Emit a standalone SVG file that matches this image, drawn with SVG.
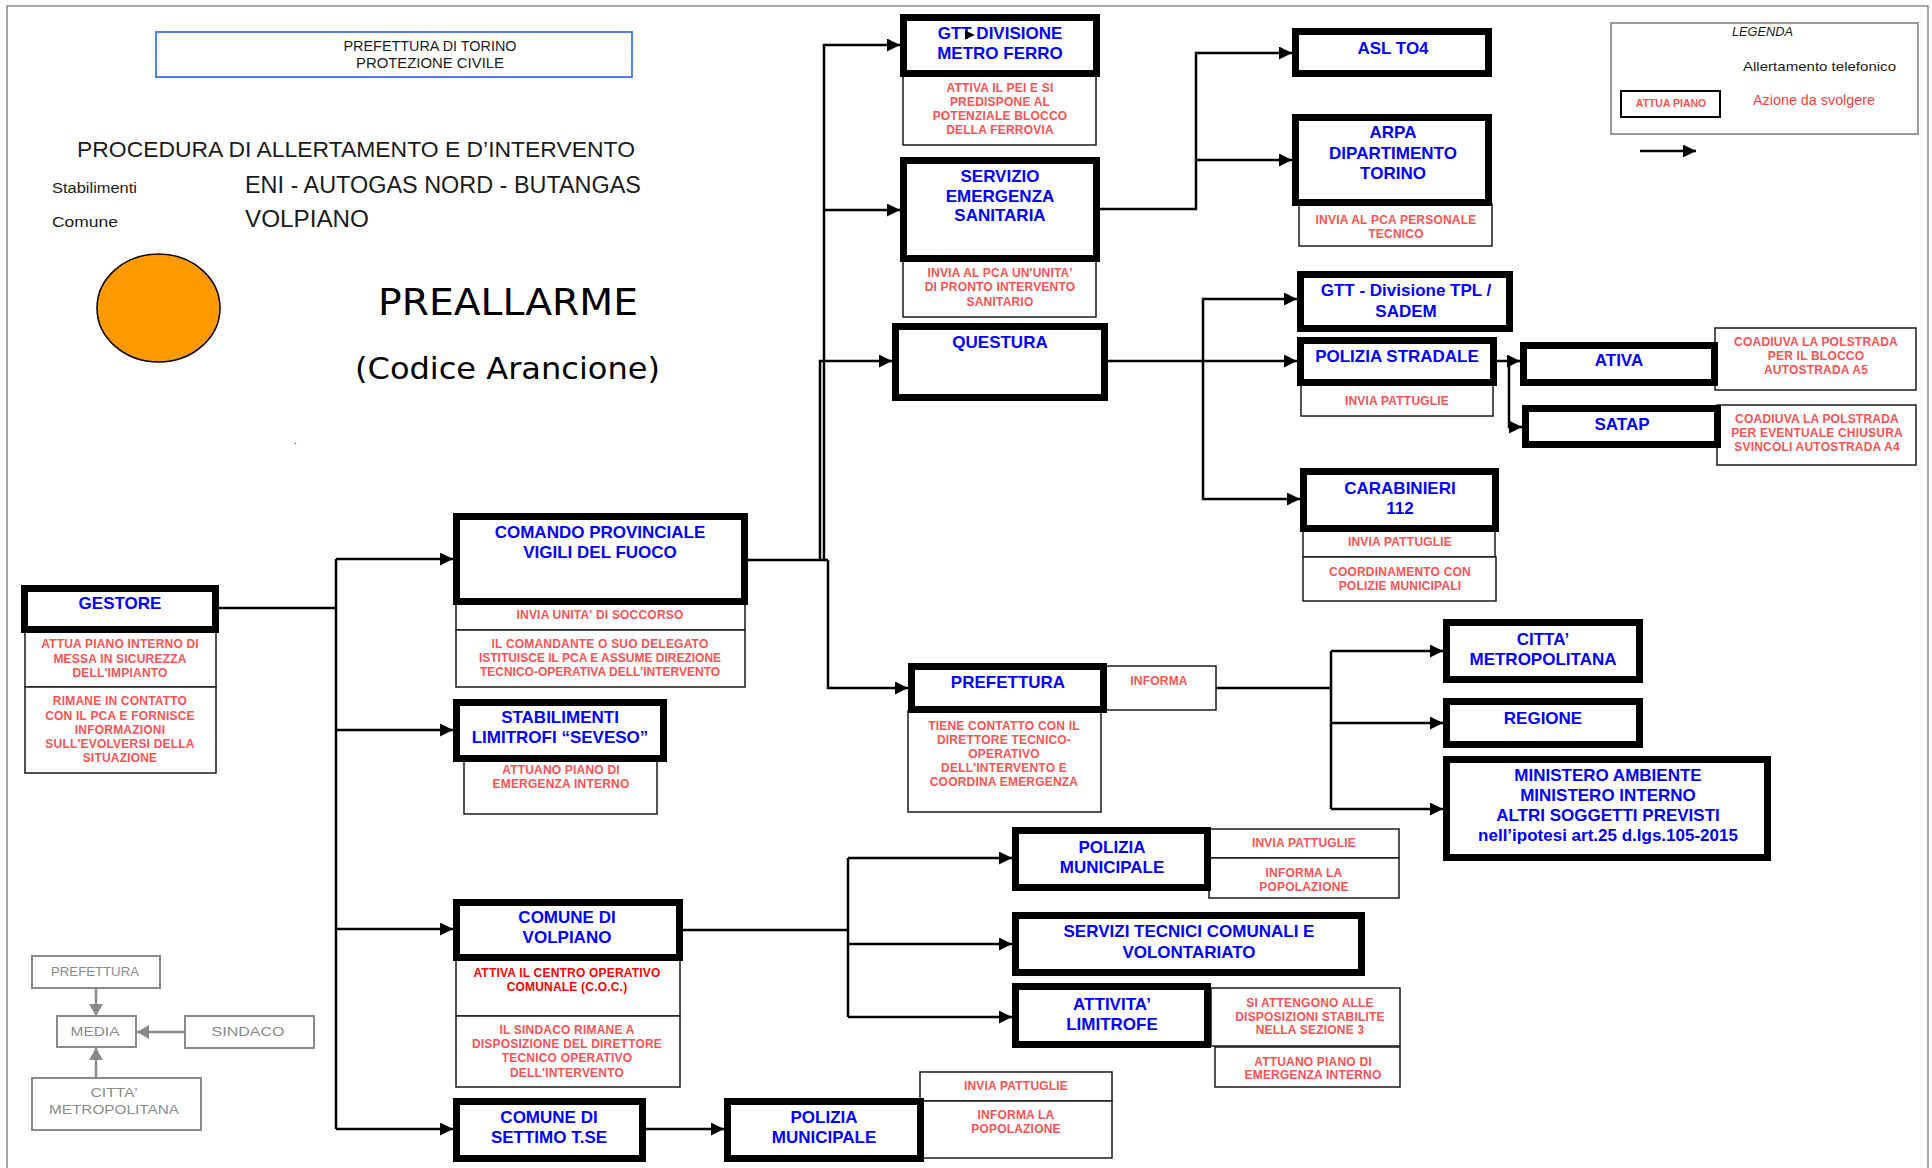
<svg xmlns="http://www.w3.org/2000/svg" width="1932" height="1168" viewBox="0 0 1932 1168">
<defs>
<marker id="ah" markerWidth="13" markerHeight="13" refX="13" refY="6.5" orient="auto" markerUnits="userSpaceOnUse"><path d="M0,0 L13,6.5 L0,13 z" fill="#000"/></marker>
<marker id="gh" markerWidth="12" markerHeight="14" refX="12" refY="7" orient="auto" markerUnits="userSpaceOnUse"><path d="M0,0 L12,7 L0,14 z" fill="#8a8a8a"/></marker>
<style>
.nb{fill:#fff;stroke:#000;stroke-width:7}
.sb{fill:#fff;stroke:#1a1a1a;stroke-width:1.5}
.t{font-family:"Liberation Sans",Arial,sans-serif;font-weight:bold;font-size:17px;fill:#0000ff;text-anchor:middle}
.a{font-family:"Liberation Sans",Arial,sans-serif;font-weight:bold;font-size:12px;letter-spacing:0.2px;fill:#ff5252;text-anchor:middle}
.ar{fill:#ff0000}
.c{fill:none;stroke:#000;stroke-width:2.5}
.ca{fill:none;stroke:#000;stroke-width:2.5;marker-end:url(#ah)}
.g{fill:#fff;stroke:#8a8a8a;stroke-width:2}
.gl{fill:none;stroke:#8a8a8a;stroke-width:2.5;marker-end:url(#gh)}
.gt{font-family:"Liberation Sans",Arial,sans-serif;font-size:13.5px;fill:#8a8a8a;text-anchor:middle}
.h{font-family:"Liberation Sans",Arial,sans-serif;fill:#1a1a1a}
.big{font-family:"DejaVu Sans",Verdana,sans-serif;fill:#000}
</style>
</defs>
<rect width="1932" height="1168" fill="#fff"/>
<!-- page frame -->
<rect x="7" y="6" width="1921" height="1180" fill="none" stroke="#8a8a8a" stroke-width="1.5"/>

<!-- header -->
<g id="header">
<rect x="156" y="32" width="476" height="45" fill="none" stroke="#3d6ff0" stroke-width="1.8"/>
<text class="h" x="430" y="51" font-size="14" text-anchor="middle" textLength="173" lengthAdjust="spacingAndGlyphs">PREFETTURA DI TORINO</text>
<text class="h" x="430" y="68" font-size="14" text-anchor="middle" textLength="148" lengthAdjust="spacingAndGlyphs">PROTEZIONE CIVILE</text>
<text class="h" x="77" y="157" font-size="22" textLength="558" lengthAdjust="spacingAndGlyphs">PROCEDURA DI ALLERTAMENTO E D’INTERVENTO</text>
<text class="h" x="52" y="193" font-size="14" textLength="85" lengthAdjust="spacingAndGlyphs">Stabilimenti</text>
<text class="h" x="245" y="193" font-size="23" textLength="396" lengthAdjust="spacingAndGlyphs">ENI - AUTOGAS NORD - BUTANGAS</text>
<text class="h" x="52" y="227" font-size="14" textLength="66" lengthAdjust="spacingAndGlyphs">Comune</text>
<text class="h" x="245" y="227" font-size="23" textLength="124" lengthAdjust="spacingAndGlyphs">VOLPIANO</text>
<ellipse cx="158.5" cy="308" rx="61.5" ry="54" fill="#ff9900" stroke="#000" stroke-width="1.5"/>
<text class="big" x="378" y="315" font-size="37" textLength="260" lengthAdjust="spacingAndGlyphs">PREALLARME</text>
<text class="big" x="355" y="379" font-size="31" textLength="305" lengthAdjust="spacingAndGlyphs">(Codice Arancione)</text>
<text class="h" x="294" y="444" font-size="10">.</text>
</g>

<!-- legend -->
<g id="legenda">
<rect x="1611" y="23" width="307" height="111" fill="none" stroke="#999" stroke-width="2"/>
<text class="h" x="1732" y="36" font-size="12" font-style="italic" textLength="61" lengthAdjust="spacingAndGlyphs">LEGENDA</text>
<text class="h" x="1743" y="71" font-size="13.5" textLength="153" lengthAdjust="spacingAndGlyphs">Allertamento telefonico</text>
<rect x="1621" y="91" width="99" height="26" fill="#fff" stroke="#000" stroke-width="2"/>
<text class="a" x="1671" y="107" style="font-size:10.5px;letter-spacing:0">ATTUA PIANO</text>
<text class="h" x="1753" y="105" font-size="14" style="fill:#ff4040" textLength="122" lengthAdjust="spacingAndGlyphs">Azione da svolgere</text>
<path class="ca" d="M1640,151 H1696"/>
</g>

<!-- connectors -->
<g id="connectors">
<path class="c" d="M219,608 H336 M336,559 V1129"/>
<path class="ca" d="M336,559 H453"/>
<path class="ca" d="M336,730 H453"/>
<path class="ca" d="M336,929 H453"/>
<path class="ca" d="M336,1129 H453"/>
<path class="c" d="M748,560 H828"/>
<path class="ca" d="M824,560 V45 H900"/>
<path class="ca" d="M824,210 H900"/>
<path class="ca" d="M820,560 V361 H892"/>
<path class="ca" d="M828,560 V688 H908"/>
<path class="ca" d="M1100,209 H1196 V53 H1292"/>
<path class="ca" d="M1196,160 H1292"/>
<path class="ca" d="M1108,361 H1297"/>
<path class="ca" d="M1203,361 V299 H1297"/>
<path class="ca" d="M1203,361 V499 H1300"/>
<path class="ca" d="M1497,361 H1520"/>
<path class="ca" d="M1509,361 V427 H1522"/>
<path class="c" d="M1216,688 H1331 M1331,651 V809"/>
<path class="ca" d="M1331,651 H1443"/>
<path class="ca" d="M1331,723 H1443"/>
<path class="ca" d="M1331,809 H1443"/>
<path class="c" d="M683,930 H848 M848,858 V1017"/>
<path class="ca" d="M848,858 H1012"/>
<path class="ca" d="M848,944 H1012"/>
<path class="ca" d="M848,1017 H1012"/>
<path class="ca" d="M646,1129 H724"/>
</g>

<!-- left column -->
<g id="gestore">
<rect class="sb" x="25" y="631" width="191" height="56"/>
<rect class="sb" x="25" y="687" width="191" height="86"/>
<rect class="nb" x="24.5" y="588.5" width="191" height="41"/>
<text class="t" x="120" y="609">GESTORE</text>
<text class="a" x="120" y="648">ATTUA PIANO INTERNO DI</text>
<text class="a" x="120" y="663">MESSA IN SICUREZZA</text>
<text class="a" x="120" y="677">DELL'IMPIANTO</text>
<text class="a" x="120" y="705">RIMANE IN CONTATTO</text>
<text class="a" x="120" y="720">CON IL PCA E FORNISCE</text>
<text class="a" x="120" y="734">INFORMAZIONI</text>
<text class="a" x="120" y="748">SULL'EVOLVERSI  DELLA</text>
<text class="a" x="120" y="762">SITUAZIONE</text>
</g>

<g id="vigili-fuoco">
<rect class="sb" x="456" y="603" width="289" height="27"/>
<rect class="sb" x="456" y="630" width="289" height="57"/>
<rect class="nb" x="456.5" y="516.5" width="288" height="85"/>
<text class="t" x="600" y="538">COMANDO PROVINCIALE</text>
<text class="t" x="600" y="558">VIGILI DEL FUOCO</text>
<text class="a" x="600" y="619">INVIA UNITA' DI SOCCORSO</text>
<text class="a" x="600" y="648">IL COMANDANTE O SUO DELEGATO</text>
<text class="a" x="600" y="662" style="letter-spacing:0">ISTITUISCE IL PCA E ASSUME DIREZIONE</text>
<text class="a" x="600" y="676" style="letter-spacing:0">TECNICO-OPERATIVA  DELL'INTERVENTO</text>
</g>

<g id="stabilimenti">
<rect class="sb" x="464" y="760" width="193" height="54"/>
<rect class="nb" x="456.5" y="702.5" width="207" height="56"/>
<text class="t" x="560" y="723">STABILIMENTI</text>
<text class="t" x="560" y="743">LIMITROFI “SEVESO”</text>
<text class="a" x="561" y="774">ATTUANO PIANO DI</text>
<text class="a" x="561" y="788">EMERGENZA INTERNO</text>
</g>

<g id="comune-volpiano">
<rect class="sb" x="456" y="959" width="224" height="57"/>
<rect class="sb" x="456" y="1016" width="224" height="71"/>
<rect class="nb" x="456.5" y="902.5" width="223" height="55"/>
<text class="t" x="567" y="923">COMUNE DI</text>
<text class="t" x="567" y="943">VOLPIANO</text>
<text class="a ar" x="567" y="977">ATTIVA IL CENTRO OPERATIVO</text>
<text class="a ar" x="567" y="991">COMUNALE (C.O.C.)</text>
<text class="a" x="567" y="1034">IL SINDACO RIMANE A</text>
<text class="a" x="567" y="1048">DISPOSIZIONE  DEL DIRETTORE</text>
<text class="a" x="567" y="1062">TECNICO OPERATIVO</text>
<text class="a" x="567" y="1077">DELL'INTERVENTO</text>
</g>

<g id="comune-settimo">
<rect class="nb" x="456.5" y="1101.5" width="186" height="57"/>
<text class="t" x="549" y="1123">COMUNE DI</text>
<text class="t" x="549" y="1143">SETTIMO T.SE</text>
</g>

<g id="polizia-municipale-settimo">
<rect class="sb" x="920" y="1072" width="192" height="29"/>
<rect class="sb" x="920" y="1101" width="192" height="57"/>
<rect class="nb" x="727.5" y="1101.5" width="193" height="57"/>
<text class="t" x="824" y="1123">POLIZIA</text>
<text class="t" x="824" y="1143">MUNICIPALE</text>
<text class="a" x="1016" y="1090">INVIA PATTUGLIE</text>
<text class="a" x="1016" y="1119">INFORMA LA</text>
<text class="a" x="1016" y="1133">POPOLAZIONE</text>
</g>

<!-- middle column -->
<g id="gtt-metro-ferro">
<rect class="sb" x="903" y="75" width="193" height="70"/>
<rect class="nb" x="903.5" y="17.5" width="193" height="56"/>
<text class="t" x="1000" y="39">GTT DIVISIONE</text>
<path d="M965,30.5 L975,35 L965,39.5 z" fill="#000"/>
<text class="t" x="1000" y="59">METRO FERRO</text>
<text class="a" x="1000" y="92">ATTIVA IL PEI E SI</text>
<text class="a" x="1000" y="106">PREDISPONE AL</text>
<text class="a" x="1000" y="120">POTENZIALE BLOCCO</text>
<text class="a" x="1000" y="134">DELLA FERROVIA</text>
</g>

<g id="servizio-emergenza-sanitaria">
<rect class="sb" x="903" y="260" width="193" height="57"/>
<rect class="nb" x="903.5" y="160.5" width="193" height="98"/>
<text class="t" x="1000" y="182">SERVIZIO</text>
<text class="t" x="1000" y="202">EMERGENZA</text>
<text class="t" x="1000" y="221">SANITARIA</text>
<text class="a" x="1000" y="277">INVIA AL PCA UN'UNITA'</text>
<text class="a" x="1000" y="291">DI PRONTO INTERVENTO</text>
<text class="a" x="1000" y="306">SANITARIO</text>
</g>

<g id="questura">
<rect class="nb" x="895.5" y="326.5" width="209" height="71"/>
<text class="t" x="1000" y="348">QUESTURA</text>
</g>

<g id="prefettura">
<rect class="sb" x="908" y="711" width="193" height="101"/>
<rect class="sb" x="1105" y="666" width="111" height="44"/>
<rect class="nb" x="911.5" y="666.5" width="192" height="43"/>
<text class="t" x="1008" y="688">PREFETTURA</text>
<text class="a" x="1159" y="685">INFORMA</text>
<text class="a" x="1004" y="730">TIENE CONTATTO CON IL</text>
<text class="a" x="1004" y="744">DIRETTORE TECNICO-</text>
<text class="a" x="1004" y="758">OPERATIVO</text>
<text class="a" x="1004" y="772">DELL'INTERVENTO  E</text>
<text class="a" x="1004" y="786">COORDINA  EMERGENZA</text>
</g>

<g id="polizia-municipale-volpiano">
<rect class="sb" x="1209" y="829" width="190" height="29"/>
<rect class="sb" x="1209" y="858" width="190" height="40"/>
<rect class="nb" x="1015.5" y="830.5" width="192" height="57"/>
<text class="t" x="1112" y="853">POLIZIA</text>
<text class="t" x="1112" y="873">MUNICIPALE</text>
<text class="a" x="1304" y="847">INVIA PATTUGLIE</text>
<text class="a" x="1304" y="877">INFORMA LA</text>
<text class="a" x="1304" y="891">POPOLAZIONE</text>
</g>

<g id="servizi-tecnici">
<rect class="nb" x="1015.5" y="915.5" width="346" height="57"/>
<text class="t" x="1189" y="937">SERVIZI TECNICI COMUNALI E</text>
<text class="t" x="1189" y="958">VOLONTARIATO</text>
</g>

<g id="attivita-limitrofe">
<rect class="sb" x="1211" y="988" width="189" height="58"/>
<rect class="sb" x="1215" y="1047" width="185" height="40"/>
<rect class="nb" x="1015.5" y="986.5" width="192" height="58"/>
<text class="t" x="1112" y="1010">ATTIVITA’</text>
<text class="t" x="1112" y="1030">LIMITROFE</text>
<text class="a" x="1310" y="1007">SI ATTENGONO ALLE</text>
<text class="a" x="1310" y="1021">DISPOSIZIONI STABILITE</text>
<text class="a" x="1310" y="1034">NELLA SEZIONE 3</text>
<text class="a" x="1313" y="1066">ATTUANO PIANO DI</text>
<text class="a" x="1313" y="1079">EMERGENZA INTERNO</text>
</g>

<!-- right column -->
<g id="asl-to4">
<rect class="nb" x="1295.5" y="31.5" width="193" height="42"/>
<text class="t" x="1393" y="54">ASL TO4</text>
</g>

<g id="arpa">
<rect class="sb" x="1299" y="204" width="193" height="42"/>
<rect class="nb" x="1295.5" y="117.5" width="193" height="85"/>
<text class="t" x="1393" y="138">ARPA</text>
<text class="t" x="1393" y="159">DIPARTIMENTO</text>
<text class="t" x="1393" y="179">TORINO</text>
<text class="a" x="1396" y="224">INVIA AL PCA PERSONALE</text>
<text class="a" x="1396" y="238">TECNICO</text>
</g>

<g id="gtt-tpl-sadem">
<rect class="nb" x="1300.5" y="274.5" width="209" height="54"/>
<text class="t" x="1406" y="296">GTT - Divisione TPL /</text>
<text class="t" x="1406" y="317">SADEM</text>
</g>

<g id="polizia-stradale">
<rect class="sb" x="1301" y="384" width="192" height="32"/>
<rect class="nb" x="1300.5" y="340.5" width="193" height="42"/>
<text class="t" x="1397" y="362">POLIZIA STRADALE</text>
<text class="a" x="1397" y="405">INVIA PATTUGLIE</text>
</g>

<g id="carabinieri">
<rect class="sb" x="1303" y="530" width="192" height="27"/>
<rect class="sb" x="1303" y="557" width="193" height="44"/>
<rect class="nb" x="1303.5" y="471.5" width="192" height="57"/>
<text class="t" x="1400" y="494">CARABINIERI</text>
<text class="t" x="1400" y="514">112</text>
<text class="a" x="1400" y="546">INVIA PATTUGLIE</text>
<text class="a" x="1400" y="576">COORDINAMENTO  CON</text>
<text class="a" x="1400" y="590">POLIZIE MUNICIPALI</text>
</g>

<g id="ativa">
<rect class="sb" x="1715" y="328" width="201" height="62"/>
<rect class="nb" x="1523.5" y="345.5" width="191" height="37"/>
<text class="t" x="1619" y="366">ATIVA</text>
<text class="a" x="1816" y="346">COADIUVA  LA POLSTRADA</text>
<text class="a" x="1816" y="360">PER IL BLOCCO</text>
<text class="a" x="1816" y="374">AUTOSTRADA  A5</text>
</g>

<g id="satap">
<rect class="sb" x="1717" y="405" width="199" height="60"/>
<rect class="nb" x="1525.5" y="408.5" width="192" height="36"/>
<text class="t" x="1622" y="430">SATAP</text>
<text class="a" x="1817" y="423">COADIUVA  LA POLSTRADA</text>
<text class="a" x="1817" y="437">PER EVENTUALE CHIUSURA</text>
<text class="a" x="1817" y="451">SVINCOLI  AUTOSTRADA  A4</text>
</g>

<g id="citta-metropolitana">
<rect class="nb" x="1446.5" y="622.5" width="193" height="57"/>
<text class="t" x="1543" y="645">CITTA’</text>
<text class="t" x="1543" y="665">METROPOLITANA</text>
</g>

<g id="regione">
<rect class="nb" x="1446.5" y="701.5" width="193" height="43"/>
<text class="t" x="1543" y="724">REGIONE</text>
</g>

<g id="ministeri">
<rect class="nb" x="1446.5" y="759.5" width="321" height="98"/>
<text class="t" x="1608" y="781">MINISTERO  AMBIENTE</text>
<text class="t" x="1608" y="801">MINISTERO  INTERNO</text>
<text class="t" x="1608" y="821">ALTRI SOGGETTI  PREVISTI</text>
<text class="t" x="1608" y="841">nell’ipotesi art.25 d.lgs.105-2015</text>
</g>

<!-- media flow, bottom left -->
<g id="media-flow">
<path class="gl" d="M96,988 V1016"/>
<path class="gl" d="M185,1032 H137"/>
<path class="gl" d="M96,1078 V1048"/>
<rect class="g" x="32" y="956" width="128" height="32"/>
<text class="gt" x="95" y="976" textLength="88" lengthAdjust="spacingAndGlyphs">PREFETTURA</text>
<rect class="g" x="57" y="1016" width="79" height="31"/>
<text class="gt" x="95" y="1036" textLength="49" lengthAdjust="spacingAndGlyphs">MEDIA</text>
<rect class="g" x="185" y="1016" width="129" height="32"/>
<text class="gt" x="248" y="1036" textLength="73" lengthAdjust="spacingAndGlyphs">SINDACO</text>
<rect class="g" x="32" y="1078" width="169" height="52"/>
<text class="gt" x="114" y="1097" textLength="47" lengthAdjust="spacingAndGlyphs">CITTA'</text>
<text class="gt" x="114" y="1114" textLength="130" lengthAdjust="spacingAndGlyphs">METROPOLITANA</text>
</g>
</svg>
